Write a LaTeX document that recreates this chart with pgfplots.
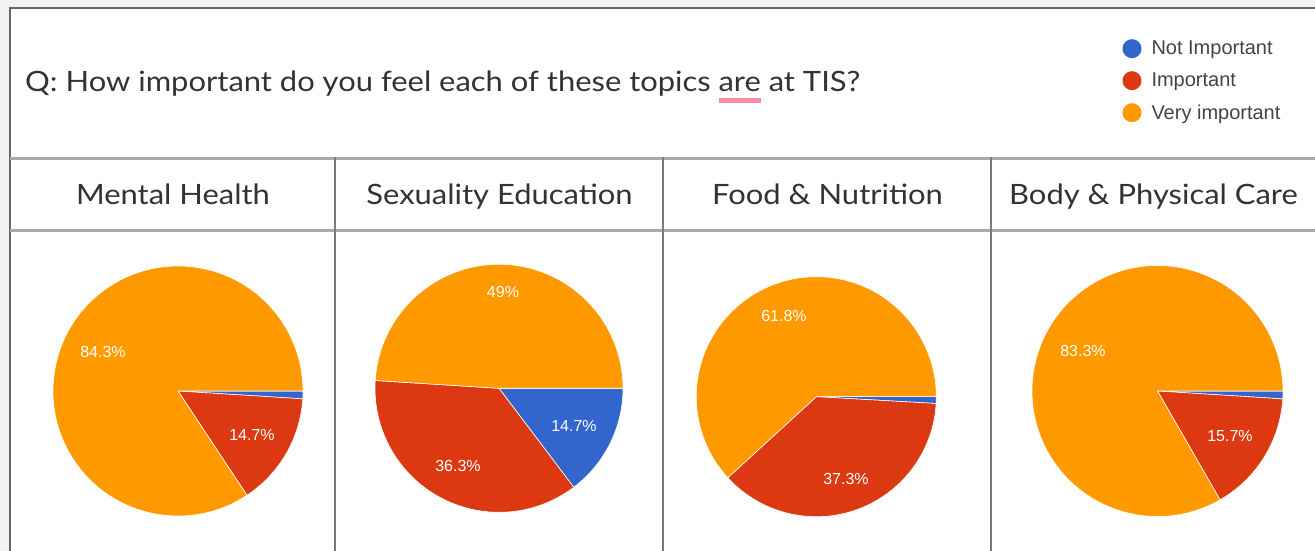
\documentclass[border=0pt]{standalone}
\usepackage{pgfplots}
\pgfplotsset{compat=1.18}
\usepackage{fontspec}
\setmainfont{Lato}[FakeStretch=1.105]
\newfontfamily\arialf{Liberation Sans}
\definecolor{gBlue}{HTML}{3366CC}
\definecolor{gRed}{HTML}{DC3912}
\definecolor{gOrange}{HTML}{FF9900}
\definecolor{framec}{HTML}{666666}
\definecolor{rulec}{HTML}{ABABAB}
\definecolor{vlinec}{HTML}{7A7A7A}
\definecolor{txt}{HTML}{333333}
\definecolor{legtxt}{HTML}{444444}
\definecolor{bgc}{HTML}{F3F3F3}
\definecolor{pinkul}{HTML}{F88CA3}

% one wedge: centre x, centre y, radius, start angle, delta angle, colour
\newcommand{\slice}[6]{%
  \pgfmathsetmacro\sx{#1+#3*cos(#4)}%
  \pgfmathsetmacro\sy{#2+#3*sin(#4)}%
  \edef\doslice{\noexpand\addplot[forget plot, fill=#6, draw=white, line width=0.6pt, line join=round]
    coordinates {(#1,#2) (\sx,\sy)} arc[start angle=#4, delta angle=#5, radius=#3pt] -- cycle;}%
  \doslice}
% one pie: centre x, centre y, radius, % not important, % important, % very important
\newcommand{\pie}[6]{%
  \pgfmathsetmacro\dA{-3.6*#4}%
  \pgfmathsetmacro\dB{-3.6*#5}%
  \pgfmathsetmacro\dC{-3.6*#6}%
  \pgfmathsetmacro\sB{\dA}%
  \pgfmathsetmacro\sC{\dA+\dB}%
  \edef\sBB{\sB}\edef\sCC{\sC}\edef\dAA{\dA}\edef\dBB{\dB}\edef\dCC{\dC}%
  \slice{#1}{#2}{#3}{0}{\dAA}{gBlue}%
  \slice{#1}{#2}{#3}{\sBB}{\dBB}{gRed}%
  \slice{#1}{#2}{#3}{\sCC}{\dCC}{gOrange}%
}
\newcommand{\ul}[1]{\setbox0\hbox{#1}\rlap{\textcolor{pinkul}{\rule[-11.5pt]{\wd0}{5pt}}}#1}

\begin{document}
\begin{tikzpicture}
\begin{axis}[
  name=ax,
  width=1315pt, height=551pt, scale only axis,
  xmin=0, xmax=1315, ymin=0, ymax=551,
  hide axis, clip=false,
  legend image code/.code={\fill[#1] (9.5pt,0pt) circle (9.5pt);},
  legend cell align=left,
  legend style={at={(0.8536,0.9289)}, anchor=north west, draw=none, fill=none,
    inner sep=0pt, outer sep=0pt, row sep=13pt, column sep=10pt,
    font=\arialf\fontsize{20}{24}\selectfont, text=legtxt,
    nodes={inner sep=0pt, outer sep=0pt}},
]
% background and frame
\fill[bgc] (axis cs:0,0) rectangle (axis cs:1315,551);
\fill[white] (axis cs:9.5,0) rectangle (axis cs:1315,543);
\draw[framec, line width=2pt] (axis cs:9.5,0) -- (axis cs:9.5,543) -- (axis cs:1315,543);
\draw[rulec, line width=3pt] (axis cs:9.5,392) -- (axis cs:1315,392);
\draw[rulec, line width=3pt] (axis cs:9.5,320.5) -- (axis cs:1315,320.5);
\draw[vlinec, line width=2pt] (axis cs:335,0) -- (axis cs:335,393.5);
\draw[vlinec, line width=2pt] (axis cs:663,0) -- (axis cs:663,393.5);
\draw[vlinec, line width=2pt] (axis cs:991,0) -- (axis cs:991,393.5);

% title and column headers
\node[anchor=base west, inner sep=0pt, text=txt, font=\fontsize{28}{34}\selectfont]
  at (axis cs:25,459) {Q: How important do you feel each of these topics \ul{are} at TIS?};
\node[anchor=base, inner sep=0pt, text=txt, font=\fontsize{28}{34}\selectfont] at (axis cs:173,346) {Mental Health};
\node[anchor=base, inner sep=0pt, text=txt, font=\fontsize{28}{34}\selectfont] at (axis cs:499.5,346) {Sexuality Education};
\node[anchor=base, inner sep=0pt, text=txt, font=\fontsize{28}{34}\selectfont] at (axis cs:827.5,346) {Food \& Nutrition};
\node[anchor=base, inner sep=0pt, text=txt, font=\fontsize{28}{34}\selectfont] at (axis cs:1153.5,346) {Body \& Physical Care};

% pies: not important, important, very important (%)
\pie{178}{160}{125}{1}{14.7}{84.3}
\pie{499}{162.7}{124}{14.7}{36.3}{49}
\pie{816.3}{154.3}{120}{0.9}{37.3}{61.8}
\pie{1157.5}{160}{125.5}{1}{15.7}{83.3}

% slice labels
\begin{scope}[every node/.style={text=white, font=\arialf\fontsize{16}{18}\selectfont, inner sep=0pt}]
\node at (axis cs:103,199) {84.3\%};
\node at (axis cs:252,116) {14.7\%};
\node at (axis cs:503,259) {49\%};
\node at (axis cs:574,125) {14.7\%};
\node at (axis cs:458,85) {36.3\%};
\node at (axis cs:784,235) {61.8\%};
\node at (axis cs:846,72) {37.3\%};
\node at (axis cs:1083,200) {83.3\%};
\node at (axis cs:1230,115) {15.7\%};
\end{scope}

\addlegendimage{fill=gBlue, draw=none}
\addlegendentry{Not Important}
\addlegendimage{fill=gRed, draw=none}
\addlegendentry{Important}
\addlegendimage{fill=gOrange, draw=none}
\addlegendentry{Very important}
\end{axis}
\pgfresetboundingbox
\path[use as bounding box] (ax.south west) rectangle (ax.north east);
\end{tikzpicture}
\end{document}
